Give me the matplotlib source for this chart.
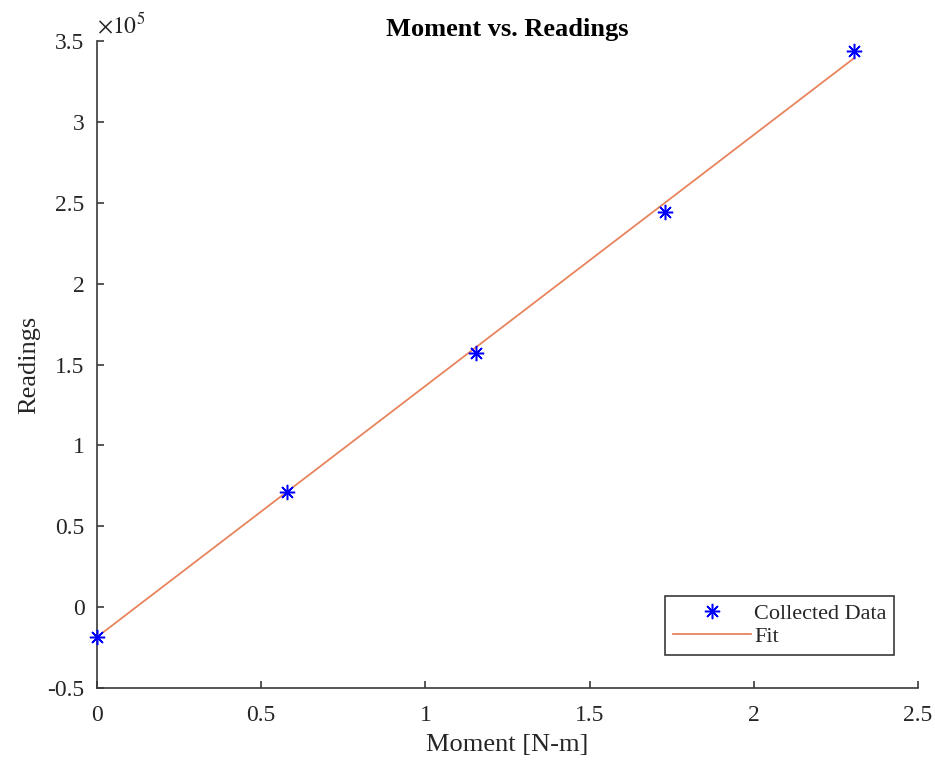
import numpy as np
import matplotlib.pyplot as plt

# values
moment = [0.0, 0.578, 1.153, 1.729, 2.306]
readings = [-1.85e4, 7.11e4, 1.570e5, 2.442e5, 3.437e5]
fit_moment = [0.0, 2.306]
fit_readings = [-1.85e4, 3.395e5]

xticks = [0, 0.5, 1, 1.5, 2, 2.5]
yticks = [-0.5, 0, 0.5, 1, 1.5, 2, 2.5, 3, 3.5]

plt.rcParams["font.family"] = ["Liberation Serif", "DejaVu Serif"]
plt.rcParams["mathtext.fontset"] = "stix"

axcol = "#3a3a3a"
txtcol = "#262626"

fig = plt.figure(figsize=(9.35, 7.61), dpi=100)
ax = fig.add_axes([0.1037, 0.0959, 0.8781, 0.8502])

ax.plot(moment, readings, linestyle="none", marker=(8, 2, 0), color="blue",
        markersize=11, markeredgewidth=1.1, label="Collected Data", clip_on=False,
        zorder=3)
ax.plot(fit_moment, fit_readings, color="#E8845C", lw=1.3, label="Fit")

ax.set_xlim(0, 2.5)
ax.set_ylim(-0.5e5, 3.5e5)
ax.set_xticks(xticks)
ax.set_xticklabels([f"{t:g}" for t in xticks])
ax.set_yticks([t * 1e5 for t in yticks])
ax.set_yticklabels([f"{t:g}" for t in yticks])

for side in ("top", "right"):
    ax.spines[side].set_visible(False)
for side in ("left", "bottom"):
    ax.spines[side].set_color(axcol)
    ax.spines[side].set_linewidth(1.2)
ax.tick_params(direction="in", length=5, width=1.2, color=axcol,
               labelcolor=txtcol, labelsize=17)
ax.tick_params(axis="x", pad=12)
ax.tick_params(axis="y", pad=9)

ax.text(0.0, 1.005, r"$\times10^5$", transform=ax.transAxes, fontsize=17,
        color=txtcol, ha="left", va="bottom")

ax.set_xlabel("Moment [N-m]", fontsize=19, color=txtcol, labelpad=6)
ax.set_ylabel("Readings", fontsize=19, color=txtcol, labelpad=5)
ax.set_title("Moment vs. Readings", fontsize=19, fontweight="bold", pad=3)

leg = ax.legend(loc="lower right", bbox_to_anchor=(0.971, 0.051), fontsize=16,
                fancybox=False, framealpha=1, edgecolor=axcol, handlelength=3.5,
                handletextpad=0.15, borderpad=0.35, labelspacing=0.12,
                numpoints=1, borderaxespad=0)
leg.get_frame().set_linewidth(1.2)
for t in leg.get_texts():
    t.set_color(txtcol)

plt.savefig("out.png", dpi=100)
plt.close()
